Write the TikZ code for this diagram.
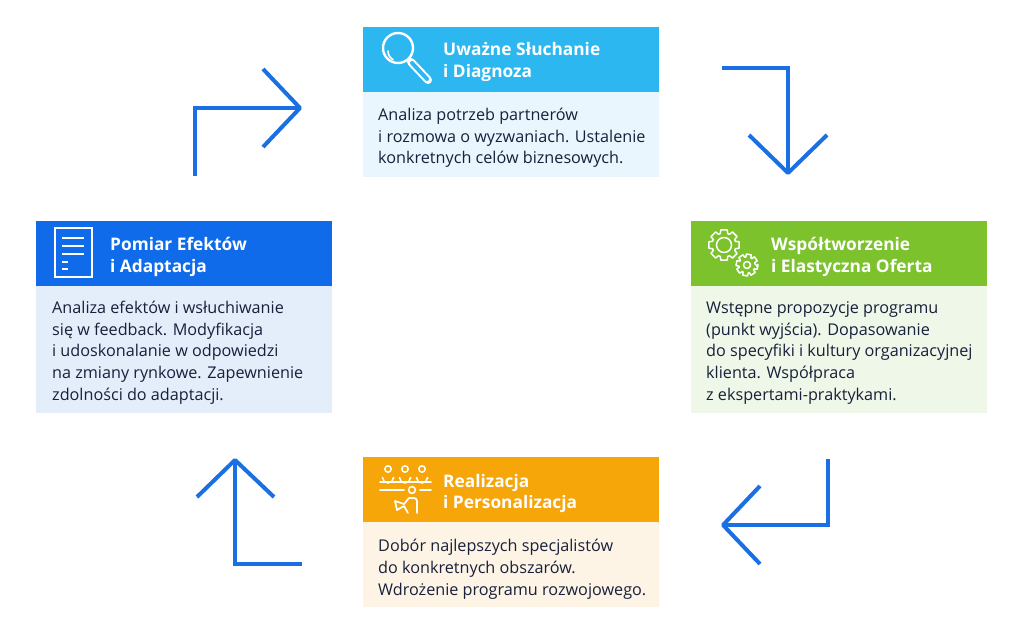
\documentclass[tikz,border=0pt]{standalone}
\usepackage{fontspec}
\setmainfont{Open Sans}
\definecolor{hTop}{HTML}{2DB7F0}
\definecolor{bTop}{HTML}{EAF6FD}
\definecolor{hLeft}{HTML}{0F6BEA}
\definecolor{bLeft}{HTML}{E4EEFB}
\definecolor{hRight}{HTML}{7CC22C}
\definecolor{bRight}{HTML}{EFF7E8}
\definecolor{hBot}{HTML}{F6A609}
\definecolor{bBot}{HTML}{FDF4E6}
\definecolor{arrowblue}{HTML}{1A6FE3}
\definecolor{txt}{HTML}{18203B}
\tikzset{
  hdrbox/.style={draw=none, minimum width=296pt, minimum height=65pt, inner sep=0pt, outer sep=0pt},
  bodybox/.style={draw=none, minimum width=296pt, inner sep=0pt, outer sep=0pt},
  hdrtext/.style={anchor=base west, align=left, inner sep=0pt, text=white,
     font={\fontsize{17.3}{21.5}\selectfont\bfseries}},
  bodytext/.style={anchor=base west, align=left, inner sep=0pt, text=txt,
     font={\fontsize{16.2}{21.6}\selectfont}},
  cyclearrow/.style={draw=arrowblue, line width=4pt, line cap=butt, line join=miter},
  arrowhead/.style={draw=arrowblue, line width=4pt, line cap=butt, line join=round},
  icon/.style={draw=white, line width=1.8pt, line cap=round, line join=round},
}
\begin{document}
\begin{tikzpicture}[x=1pt,y=-1pt]
\useasboundingbox (0,0) rectangle (1024,636);
\fill[white] (0,0) rectangle (1024,636);

% ---------- top box ----------
\node[hdrbox, fill=hTop, anchor=north west] (h1) at (363,27) {};
\node[bodybox, fill=bTop, anchor=north west, minimum height=85pt] (b1) at (363,92) {};
\node[hdrtext] (h1t) at (443,77.5) {Uważne Słuchanie\\i Diagnoza};
\node[bodytext] (b1t) at (378,164) {Analiza potrzeb partnerów\\i rozmowa o wyzwaniach. Ustalenie\\konkretnych celów biznesowych.};
% magnifier icon
\draw[icon, line width=2.4pt] (398,48) circle[radius=15];
\draw[icon, line width=1.6pt] (388,51) arc[start angle=180, end angle=120, radius=10];
\draw[white, line width=8pt, line cap=round] (411,62) -- (428,80);
\draw[hTop, line width=4pt, line cap=round] (412,63) -- (427,79);

% ---------- left box ----------
\node[hdrbox, fill=hLeft, anchor=north west] (h2) at (36,221) {};
\node[bodybox, fill=bLeft, anchor=north west, minimum height=127pt] (b2) at (36,286) {};
\node[hdrtext] (h2t) at (110,272.5) {Pomiar Efektów\\i Adaptacja};
\node[bodytext] (b2t) at (52,400) {Analiza efektów i wsłuchiwanie\\się w feedback. Modyfikacja\\i udoskonalanie w odpowiedzi\\na zmiany rynkowe. Zapewnienie\\zdolności do adaptacji.};
% document icon
\draw[icon, line width=2pt, line cap=butt, line join=miter] (55,228) rectangle (92,277);
\draw[icon, line width=2pt, line cap=butt] (62,238) -- (84,238);
\draw[icon, line width=2pt, line cap=butt] (62,246) -- (84,246);
\draw[icon, line width=2pt, line cap=butt] (62,254) -- (84,254);
\draw[icon, line width=2pt, line cap=butt] (62,262) -- (68,262);
\draw[icon, line width=2pt, line cap=butt] (62,269) -- (68,269);

% ---------- right box ----------
\node[hdrbox, fill=hRight, anchor=north west] (h3) at (691,221) {};
\node[bodybox, fill=bRight, anchor=north west, minimum height=127pt] (b3) at (691,286) {};
\node[hdrtext] (h3t) at (771,272.5) {Współtworzenie\\i Elastyczna Oferta};
\node[bodytext] (b3t) at (706,400) {Wstępne propozycje programu\\(punkt wyjścia). Dopasowanie\\do specyfiki i kultury organizacyjnej\\klienta. Współpraca\\z ekspertami-praktykami.};
% gears icon
\draw[icon, line width=1.5pt, shift={(724,245)}] (-12:15.5) \foreach \a in {0,45,...,315}{ -- (\a-12:15.5) -- (\a+12:15.5) -- (\a+18:12) -- (\a+27:12) } -- cycle;
\draw[icon, line width=1.5pt] (724,245) circle[radius=7.5];
\draw[icon, line width=1.5pt, shift={(747,265)}] (10:11) \foreach \a in {10,55,...,325}{ -- (\a-13:11) -- (\a+13:11) -- (\a+19:8) -- (\a+26:8) } -- cycle;
\draw[icon, line width=1.5pt] (747,265) circle[radius=3.5];

% ---------- bottom box ----------
\node[hdrbox, fill=hBot, anchor=north west] (h4) at (363,457) {};
\node[bodybox, fill=bBot, anchor=north west, minimum height=85pt] (b4) at (363,522) {};
\node[hdrtext] (h4t) at (443,508.5) {Realizacja\\i Personalizacja};
\node[bodytext] (b4t) at (378,595) {Dobór najlepszych specjalistów\\do konkretnych obszarów.\\Wdrożenie programu rozwojowego.};
% people icon
\foreach \px in {388,405,422}{
  \draw[icon, line width=1.5pt] (\px,469) circle[radius=3.2];
  \draw[icon, line width=1.5pt] (\px-5.5,478.5) -- (\px-5.5,477.5) arc[start angle=180, end angle=0, radius=5.5] -- (\px+5.5,478.5);
}
\draw[icon, line width=1.7pt] (380,482) -- (431,482);
\draw[icon, line width=1.7pt] (380,490) -- (404,490);
\draw[icon, line width=1.7pt] (420,490) -- (431,490);
\draw[icon, line width=1.5pt] (412,490) circle[radius=3.4];
\draw[icon, line width=1.7pt] (404,504) -- (409,498) -- (414,498) arc[start angle=-90, end angle=0, radius=3] -- (417,513);
\draw[icon, line width=1.7pt] (404,504) -- (395,501) -- (397,510) -- (404,506) -- (408,513);

% ---------- cycle arrows ----------
\coordinate (a1s) at (195,176);
\coordinate (a1c) at (195,108);
\coordinate (a1e) at (300,108);
\coordinate (a1u) at (263,69);
\coordinate (a1d) at (263,147);
\draw[cyclearrow] (a1s) -- (a1c) -- (a1e);
\draw[arrowhead] (a1u) -- (a1e) -- (a1d);

\coordinate (a2s) at (722,68);
\coordinate (a2c) at (788,68);
\coordinate (a2e) at (788,173);
\coordinate (a2l) at (749,135);
\coordinate (a2r) at (827,135);
\draw[cyclearrow] (a2s) -- (a2c) -- (a2e);
\draw[arrowhead] (a2l) -- (a2e) -- (a2r);

\coordinate (a3s) at (828,459);
\coordinate (a3c) at (828,525);
\coordinate (a3e) at (723,525);
\coordinate (a3u) at (760,486);
\coordinate (a3d) at (760,564);
\draw[cyclearrow] (a3s) -- (a3c) -- (a3e);
\draw[arrowhead] (a3u) -- (a3e) -- (a3d);

\coordinate (a4s) at (302,564);
\coordinate (a4c) at (235,564);
\coordinate (a4e) at (235,460);
\coordinate (a4l) at (197,497);
\coordinate (a4r) at (274,497);
\draw[cyclearrow] (a4s) -- (a4c) -- (a4e);
\draw[arrowhead] (a4l) -- (a4e) -- (a4r);
\end{tikzpicture}
\end{document}
